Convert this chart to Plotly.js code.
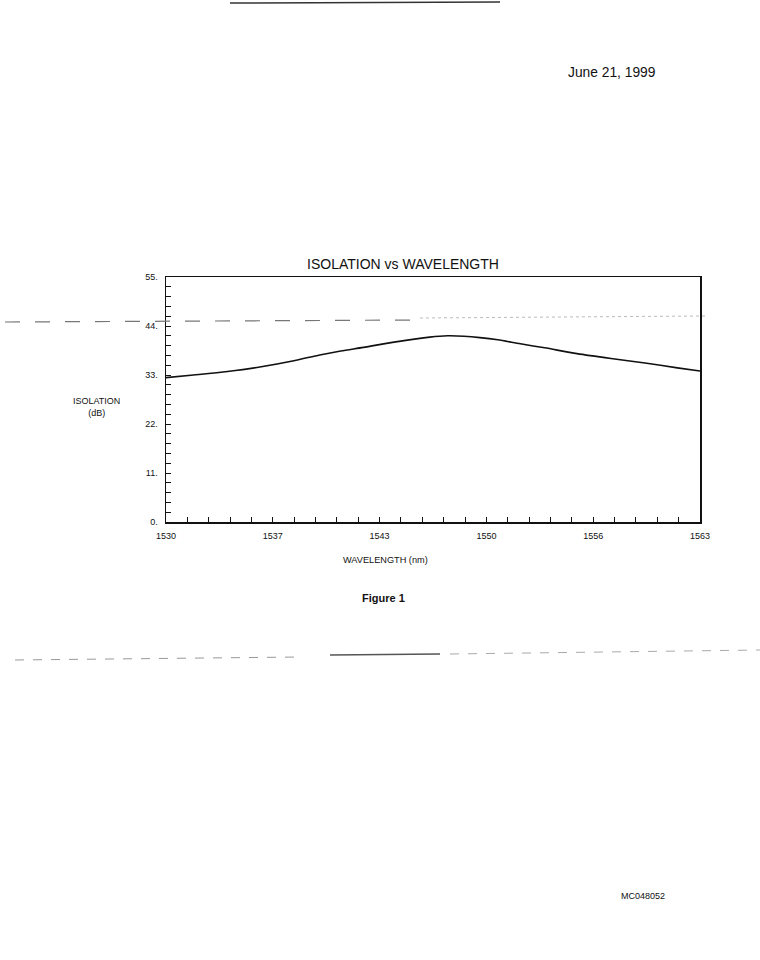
<!DOCTYPE html>
<html>
<head>
<meta charset="utf-8">
<script src="https://cdn.plot.ly/plotly-3.0.1.min.js"></script>
<style>
  html, body { margin: 0; padding: 0; background: #ffffff; }
  #chart { width: 760px; height: 960px; }
</style>
</head>
<body>
<div id="chart"></div>
<script>
// Data
const wavelength = [1530, 1531.7, 1533.8, 1535.8, 1537.9, 1539.5, 1540.8, 1542.2, 1544.3, 1546.3, 1547.4,
                    1548.4, 1549.4, 1550.5, 1551.9, 1553.4, 1555.4, 1557.5, 1559.6, 1561.6, 1563];
const isolation  = [32.4, 33.0, 33.8, 34.8, 36.2, 37.5, 38.4, 39.2, 40.5, 41.5, 41.8,
                    41.7, 41.4, 40.9, 40.0, 39.1, 37.8, 36.7, 35.7, 34.6, 33.9];
const xTickVals = [1530, 1536.6, 1543.2, 1549.8, 1556.4, 1563];
const xTickText = ['1530', '1537', '1543', '1550', '1556', '1563'];
const yTickVals = [0, 11, 22, 33, 44, 55];
const yTickText = ['0.', '11.', '22.', '33.', '44.', '55.'];

// Page geometry helpers (plot area in pixels)
const L = 166, R = 700, T = 277, B = 522, W = 760, H = 960;
const px = x => (x - L) / (R - L);
const py = y => (B - y) / (B - T);

const font = 'Liberation Sans, Arial, Helvetica, sans-serif';
const ink = '#111111';

const trace = {
  x: wavelength,
  y: isolation,
  type: 'scatter',
  mode: 'lines',
  line: { color: ink, width: 1.6, shape: 'spline', smoothing: 0.8 },
  hoverinfo: 'skip',
  showlegend: false
};

const layout = {
  width: W,
  height: H,
  paper_bgcolor: '#ffffff',
  plot_bgcolor: '#ffffff',
  margin: { l: L, r: W - R, t: T, b: H - B, pad: 0 },
  font: { family: font, color: ink },
  title: {
    text: 'ISOLATION vs WAVELENGTH',
    font: { family: font, size: 14, color: ink },
    x: 403 / W, xanchor: 'center', xref: 'container',
    y: 1 - 264 / H, yanchor: 'middle', yref: 'container'
  },
  xaxis: {
    range: [1530, 1563],
    tickmode: 'array',
    tickvals: xTickVals,
    ticktext: xTickText,
    ticks: 'inside', ticklen: 5, tickwidth: 1, tickcolor: ink,
    minor: { tick0: 1530, dtick: 1.32, ticks: 'inside', ticklen: 5, tickwidth: 1, tickcolor: ink, showgrid: false },
    showline: true, linecolor: ink, linewidth: 1.5, mirror: true,
    showgrid: false, zeroline: false,
    ticklabelstandoff: 5,
    tickfont: { family: font, size: 9, color: ink },
    fixedrange: true
  },
  yaxis: {
    range: [0, 55],
    tickmode: 'array',
    tickvals: yTickVals,
    ticktext: yTickText,
    ticks: 'inside', ticklen: 5, tickwidth: 1, tickcolor: ink,
    minor: { tick0: 0, dtick: 2.2, ticks: 'inside', ticklen: 5, tickwidth: 1, tickcolor: ink, showgrid: false },
    showline: true, linecolor: ink, linewidth: 1.5, mirror: true,
    showgrid: false, zeroline: false,
    ticklabelstandoff: 5,
    tickfont: { family: font, size: 9, color: ink },
    fixedrange: true
  },
  annotations: [
    { text: 'ISOLATION<br>(dB)', xref: 'paper', yref: 'paper', x: px(96), y: py(407),
      xanchor: 'center', yanchor: 'middle', showarrow: false, align: 'center',
      font: { family: font, size: 9, color: ink } },
    { text: 'WAVELENGTH (nm)', xref: 'paper', yref: 'paper', x: px(385), y: py(560),
      xanchor: 'center', yanchor: 'middle', showarrow: false,
      font: { family: font, size: 9.2, color: ink } },
    { text: '<b>Figure 1</b>', xref: 'paper', yref: 'paper', x: px(383), y: py(598),
      xanchor: 'center', yanchor: 'middle', showarrow: false,
      font: { family: font, size: 11, color: ink } },
    { text: 'June 21, 1999', xref: 'paper', yref: 'paper', x: px(612), y: py(72),
      xanchor: 'center', yanchor: 'middle', showarrow: false,
      font: { family: font, size: 13.8, color: ink } },
    { text: 'MC048052', xref: 'paper', yref: 'paper', x: px(643), y: py(896),
      xanchor: 'center', yanchor: 'middle', showarrow: false,
      font: { family: font, size: 9, color: ink } }
  ],
  shapes: [
    // scan streak artifacts
    { type: 'line', xref: 'paper', yref: 'paper', x0: px(5), x1: px(420), y0: py(322), y1: py(320),
      line: { color: '#777777', width: 1.2, dash: 'longdash' }, layer: 'above' },
    { type: 'line', xref: 'paper', yref: 'paper', x0: px(420), x1: px(705), y0: py(318), y1: py(316),
      line: { color: '#bbbbbb', width: 1, dash: 'dot' }, layer: 'above' },
    { type: 'line', xref: 'paper', yref: 'paper', x0: px(15), x1: px(300), y0: py(660), y1: py(657),
      line: { color: '#999999', width: 1, dash: 'dash' }, layer: 'above' },
    { type: 'line', xref: 'paper', yref: 'paper', x0: px(330), x1: px(440), y0: py(655), y1: py(654),
      line: { color: '#555555', width: 1.4 }, layer: 'above' },
    { type: 'line', xref: 'paper', yref: 'paper', x0: px(450), x1: px(760), y0: py(654), y1: py(650),
      line: { color: '#aaaaaa', width: 1, dash: 'dash' }, layer: 'above' },
    { type: 'line', xref: 'paper', yref: 'paper', x0: px(230), x1: px(500), y0: py(3), y1: py(2),
      line: { color: '#333333', width: 1.5 }, layer: 'above' }
  ]
};

Plotly.newPlot('chart', [trace], layout, { staticPlot: true, displayModeBar: false });
</script>
</body>
</html>
